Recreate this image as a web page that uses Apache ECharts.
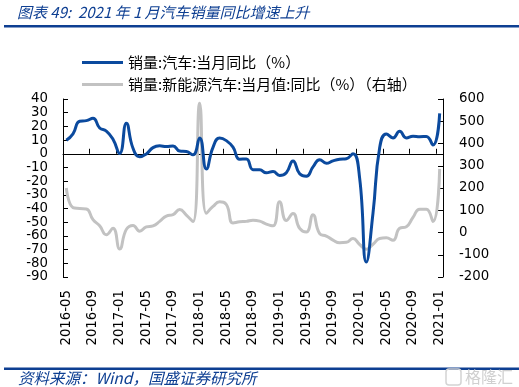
<!DOCTYPE html>
<html><head><meta charset="utf-8">
<script src="https://cdn.jsdelivr.net/npm/echarts@6/dist/echarts.min.js"></script>
<style>html,body{margin:0;padding:0;background:#fff}#c{width:519px;height:387px}</style>
</head><body><div id="c"></div>
<script>
const categories = [
  '2016-05','2016-06','2016-07','2016-08','2016-09','2016-10','2016-11','2016-12',
  '2017-01','2017-02','2017-03','2017-04','2017-05','2017-06','2017-07','2017-08','2017-09','2017-10','2017-11','2017-12',
  '2018-01','2018-02','2018-03','2018-04','2018-05','2018-06','2018-07','2018-08','2018-09','2018-10','2018-11','2018-12',
  '2019-01','2019-02','2019-03','2019-04','2019-05','2019-06','2019-07','2019-08','2019-09','2019-10','2019-11','2019-12',
  '2020-01','2020-02','2020-03','2020-04','2020-05','2020-06','2020-07','2020-08','2020-09','2020-10','2020-11','2020-12',
  '2021-01'
];
// 销量:汽车:当月同比(%)  (left axis)
const autoYoY = [
  9.8, 14.6, 23.8, 24.2, 26.0, 18.8, 16.6, 10.6,
  0.2, 22.3, 4.0, -2.2, -0.1, 4.5, 5.8, 5.3, 5.7, 2.0, 1.6, -0.8,
  11.6, -11.1, 4.7, 11.5, 9.6, 4.8, -4.0, -3.8, -11.6, -11.7, -13.9, -13.0,
  -15.8, -13.8, -5.2, -14.6, -16.4, -9.6, -4.3, -6.9, -5.2, -4.0, -3.6, 0.1,
  -18.0, -79.1, -43.3, 4.4, 14.5, 11.6, 16.4, 11.6, 12.8, 12.5, 12.6, 6.4,
  29.5
];
// 销量:新能源汽车:当月值:同比(%)  (right axis)
const nevYoY = [
  200, 112, 108, 106, 58, 30, -10, 19,
  -74, 14, 32, 6, 25, 30, 50, 74, 80, 103, 78, 49,
  581, 86, 117, 138, 126, 43, 48, 50, 55, 51, 38, 30,
  138, 54, 85, 18, 2, 80, -5, -16, -34, -46, -44, -27,
  -54, -75, -53, -27, -24, -35, 19, 26, 68, 105, 105, 50,
  286
];
const leftAxis = {min: -90, max: 40, interval: 10};
const rightAxis = {min: -200, max: 600, interval: 100};
const seriesNames = ['销量:汽车:当月同比（%）', '销量:新能源汽车:当月值:同比（%）（右轴）'];
const titleText = '图表 49:  2021 年 1 月汽车销量同比增速上升';
const sourceText = '资料来源：Wind，国盛证券研究所';

const BLUE = '#0B4A9E';
const DARKBLUE = '#0E3F92';
const GRAY = '#C2C2C2';
const NUM = "'DejaVu Sans', Verdana, sans-serif";
const CJK = "'Noto Sans CJK SC', sans-serif";

const chart = echarts.init(document.getElementById('c'), null, {renderer: 'canvas'});
const option = {
  animation: false,
  backgroundColor: '#fff',
  grid: {left: 63, right: 76, top: 99, bottom: 110, containLabel: false},
  legend: {
    orient: 'vertical', left: 77, top: 50,
    itemWidth: 41, itemHeight: 3, itemGap: 7, icon: 'rect',
    textStyle: {fontFamily: CJK, fontSize: 15, lineHeight: 15, color: '#000'},
    data: seriesNames
  },
  xAxis: [
    {
      type: 'category', data: categories, boundaryGap: true, position: 'bottom',
      axisLine: {show: false, onZero: false}, axisTick: {show: false},
      axisLabel: {interval: 3, rotate: 90, margin: 13, fontFamily: NUM, fontSize: 13.3, color: '#000'},
      splitLine: {show: false}
    },
    {
      type: 'category', data: categories, boundaryGap: true, position: 'top',
      axisLine: {show: true, onZero: true, onZeroAxisIndex: 0, lineStyle: {color: '#000', width: 1}},
      axisTick: {show: true, interval: 3, inside: false, length: 5, lineStyle: {color: '#000'}},
      axisLabel: {show: false}, splitLine: {show: false}
    }
  ],
  yAxis: [
    {
      type: 'value', position: 'left', min: leftAxis.min, max: leftAxis.max, interval: leftAxis.interval,
      axisLine: {show: true, onZero: false, lineStyle: {color: '#000', width: 1}},
      axisTick: {show: true, inside: true, length: 5, lineStyle: {color: '#000'}},
      axisLabel: {margin: 15, fontFamily: NUM, fontSize: 13.3, color: '#000'},
      splitLine: {show: false}
    },
    {
      type: 'value', position: 'right', min: rightAxis.min, max: rightAxis.max, interval: rightAxis.interval,
      axisLine: {show: true, onZero: false, lineStyle: {color: '#000', width: 1}},
      axisTick: {show: true, inside: true, length: 5, lineStyle: {color: '#000'}},
      axisLabel: {margin: 16, fontFamily: NUM, fontSize: 13.3, color: '#000'},
      splitLine: {show: false}
    }
  ],
  series: [
    {
      name: seriesNames[0], type: 'line', xAxisIndex: 0, yAxisIndex: 0, data: autoYoY,
      smooth: 0.5, symbol: 'none', z: 3,
      lineStyle: {color: BLUE, width: 3}, itemStyle: {color: BLUE}
    },
    {
      name: seriesNames[1], type: 'line', xAxisIndex: 0, yAxisIndex: 1, data: nevYoY,
      smooth: 0.5, symbol: 'none', z: 2,
      lineStyle: {color: GRAY, width: 3}, itemStyle: {color: GRAY}
    }
  ],
  graphic: [
    {type: 'text', x: 17, y: 12, style: {text: titleText, fill: DARKBLUE, font: 'italic 15px ' + CJK, verticalAlign: 'middle'}},
    {type: 'rect', shape: {x: 4, y: 25, width: 515, height: 2.5}, style: {fill: DARKBLUE}},
    {type: 'rect', shape: {x: 4, y: 367.5, width: 515, height: 2.5}, style: {fill: DARKBLUE}},
    {type: 'text', x: 18, y: 378, style: {text: sourceText, fill: DARKBLUE, font: 'italic 15.5px ' + CJK, verticalAlign: 'middle'}},
    {type: 'rect', shape: {x: 446, y: 369, width: 15, height: 16, r: 3}, style: {fill: 'none', stroke: '#d4d4d4', lineWidth: 1.5}},
    {type: 'text', x: 465, y: 377, style: {text: '格隆汇', fill: '#d0d0d0', font: '16px ' + CJK, verticalAlign: 'middle'}}
  ]
};
chart.setOption(option);
</script>
</body></html>
